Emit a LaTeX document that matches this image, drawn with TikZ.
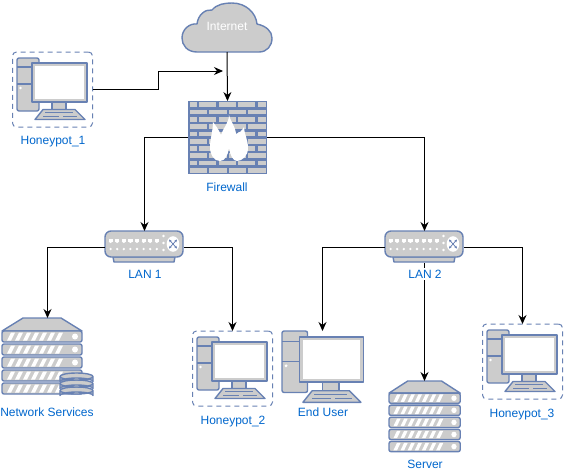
\documentclass[tikz,border=0pt]{standalone}
\usepackage{fontspec}
\setmainfont{Liberation Sans}
\usetikzlibrary{arrows.meta,calc}

\definecolor{iconfill}{HTML}{CCCCCC}
\definecolor{iconline}{HTML}{6881B3}
\definecolor{labelblue}{HTML}{0066CC}

\tikzset{
  icon/.style={draw=iconline,fill=iconfill,line width=1.4pt,line join=round},
  hitbox/.style={inner sep=0pt,outer sep=0pt,minimum width=#1},
  dashbox/.style={draw=iconline,line width=1pt,dash pattern=on 5pt off 4pt,rounded corners=4pt},
  lbl/.style={text=labelblue,font=\fontsize{12}{14}\selectfont,inner sep=0pt,text height=8.6pt,text depth=0pt},
  link/.style={->,line width=1pt,black},
  % desktop computer, origin at its top left corner
  pics/pcicon/.style={code={
    \draw[icon,rounded corners=2pt] (0,0) rectangle (22,53);
    \draw[iconline,line width=1.2pt] (0,9) -- (22,9) (0,26) -- (22,26);
    \fill[white] (3.5,30) circle (1.3);
    \draw[icon] (35,44) rectangle (49,52);
    \draw[icon] (26,51.5) -- (58,51.5) -- (68,61.5) -- (18,61.5) -- cycle;
    \draw[iconline,line width=0.8pt] (28,54.5) -- (56,54.5) (26,58) -- (42,58) (46,58) -- (60,58);
    \draw[icon] (15,5) rectangle (70,44);
    \fill[white] (18,8) rectangle (67,41);
  }},
  % rack of five units, origin at its top left corner
  pics/rackicon/.style={code={
    \draw[icon] (0,13) -- (21,0) -- (59,0) -- (80,13) -- cycle;
    \foreach \y in {13,26,39,52,65} {
      \draw[icon,rounded corners=2pt] (0,\y) rectangle (80,\y+11);
      \foreach \x in {0,...,6}
        \fill[white] ($(5+8*\x,\y+1.5)+(4,0)$) -- ++(4,0) -- ++(-4,8) -- ++(-4,0) -- cycle;
      \fill[white] (73,\y+5.5) circle (3);
    }
  }},
  % three stacked discs
  pics/dbicon/.style={code={
    \foreach \y in {14,7,0} {
      \draw[icon] (0,\y+3.5) -- (0,\y+8.5) arc[start angle=180,end angle=360,x radius=16.5,y radius=3.5]
        -- (33,\y+3.5) arc[start angle=360,end angle=0,x radius=16.5,y radius=3.5];
    }
  }},
  % network switch, origin at its top left corner
  pics/switchicon/.style={code={
    \draw[icon] (8,26) -- (70,26) -- (69,31) -- (9,31) -- cycle;
    \draw[icon,rounded corners=6pt] (0,0) rectangle (78,26);
    \foreach \x in {0,...,7} {
      \fill[white] (3.5+6.6*\x,7.5) rectangle ++(4.2,3);
      \fill[white] (5.6+6.6*\x,10.5) -- ++(-2.1,0) -- ++(2.1,1.6) -- ++(2.1,-1.6) -- cycle;
      \fill[white] (5.6+6.6*\x,18) circle (1.3);
    }
    \foreach \y in {5,12,19} \fill[white] (58.5,\y) circle (1.4);
    \fill[white] (68,13) ellipse (6.3 and 7.8);
    \draw[iconline,line width=0.8pt,<->,>={Stealth[length=2.5pt,width=2.5pt]}] (64,8.5) -- (72,17.5);
    \draw[iconline,line width=0.8pt,<->,>={Stealth[length=2.5pt,width=2.5pt]}] (72,8.5) -- (64,17.5);
  }},
  % brick wall with a flame, origin at its top left corner
  pics/firewallicon/.style={code={
    \fill[iconline] (0,0) rectangle (79,73);
    \foreach \r in {0,2,4,6,8} {
      \fill[iconfill] (1.5,1.3+7.3*\r) rectangle ++(7,4.7);
      \foreach \x in {11,30.5,50} \fill[iconfill] (\x,1.3+7.3*\r) rectangle ++(17,4.7);
      \fill[iconfill] (70,1.3+7.3*\r) rectangle ++(7.5,4.7);
    }
    \foreach \r in {1,3,5,7,9} {
      \foreach \x in {1.5,21,40.5,60} \fill[iconfill] (\x,1.3+7.3*\r) rectangle ++(17.5,4.7);
    }
    % flame
    \fill[white] (41,14) .. controls (42,20) and (47,24) .. (48,33)
      .. controls (51,32) and (54,30) .. (56,26)
      .. controls (56,33) and (60,38) .. (60,47)
      .. controls (60,55) and (54,60) .. (49,60)
      .. controls (45,60) and (42,54) .. (41,47)
      .. controls (40,54) and (37,60) .. (32,60)
      .. controls (26,60) and (22,54) .. (22,46)
      .. controls (22,38) and (25,30) .. (25,21)
      .. controls (28,25) and (31,29) .. (33,34)
      .. controls (35,27) and (41,22) .. (41,14) -- cycle;
  }},
}

\begin{document}
\begin{tikzpicture}[x=1pt,y=-1pt,>={Stealth[length=9pt,width=8pt,inset=3pt]}]
  \useasboundingbox (0,0) rectangle (564,472);

  % Internet cloud
  \draw[icon] (197,52) .. controls (187,52) and (182,45) .. (182,38)
    .. controls (182,29) and (190,23) .. (197,24)
    .. controls (198,15) and (205,9) .. (212,10)
    .. controls (217,4) and (225,3) .. (232,3)
    .. controls (246,3) and (256,13) .. (257,24)
    .. controls (266,26) and (272,31) .. (272,38)
    .. controls (272,46) and (267,52) .. (259,52) -- cycle;
  \node[hitbox=90pt,minimum height=49pt] (cloud) at (227,27.5) {};
  \node[lbl,text=white] (internet) at (227,26) {Internet};

  % Firewall
  \pic at (188,101) {firewallicon};
  \node[hitbox=79pt,minimum height=73pt] (fw) at (227.5,137.5) {};
  \node[lbl] (fwlabel) at (227,187) {Firewall};

  % Honeypots
  \node[dashbox,hitbox=80pt,minimum height=75pt] (hp1) at (52.5,89.5) {};
  \pic at (17,58) {pcicon};
  \node[lbl] (hp1label) at (53,140) {Honeypot\_1};

  \node[dashbox,hitbox=80pt,minimum height=75pt] (hp2) at (232.5,368.5) {};
  \pic at (197,337) {pcicon};
  \node[lbl] (hp2label) at (233,420) {Honeypot\_2};

  \node[dashbox,hitbox=80pt,minimum height=75pt] (hp3) at (522.5,361.5) {};
  \pic at (487,330) {pcicon};
  \node[lbl] (hp3label) at (522,413) {Honeypot\_3};

  % Switches
  \pic at (105,231) {switchicon};
  \node[hitbox=79pt,minimum height=32pt] (lan1) at (144.5,247) {};
  \node[lbl] (lan1label) at (145,274) {LAN 1};

  \pic at (385,231) {switchicon};
  \node[hitbox=79pt,minimum height=32pt] (lan2) at (424.5,247) {};

  % Network services
  \pic at (2,318) {rackicon};
  \pic at (60,373) {dbicon};
  \node[hitbox=91pt,minimum height=81pt] (ns) at (47.5,358.5) {};
  \node[lbl] (nslabel) at (47,412) {Network Services};

  % End user
  \pic[scale=1.16] at (282,331) {pcicon};
  \node[hitbox=81pt,minimum height=72pt] (user) at (322.5,367) {};
  \node[lbl] (userlabel) at (323,412) {End User};

  % Server
  \pic[xscale=0.89,yscale=0.93] at (389,381) {rackicon};
  \node[hitbox=71pt,minimum height=71pt] (server) at (424.5,416.5) {};
  \node[lbl] (serverlabel) at (425,464) {Server};

  % Connections
  \coordinate (bend) at (158,71);
  \coordinate (join) at (223,71);
  \draw[link] (cloud.south) -- (fw.north);
  \draw[link] (hp1.east) -| (bend) -- (join);
  \draw[link] (fw.west) -| (lan1.north);
  \draw[link] (fw.east) -| (lan2.north);
  \draw[link] (lan1.west) -| (ns.north);
  \draw[link] (lan1.east) -| (hp2.north);
  \draw[link] (lan2.west) -| (user.north);
  \draw[link] (lan2.east) -| (hp3.north);
  \draw[link] (lan2.south) -- (server.north);
  \node[lbl,fill=white,inner sep=2pt] (lan2label) at (425,274) {LAN 2};
\end{tikzpicture}
\end{document}
